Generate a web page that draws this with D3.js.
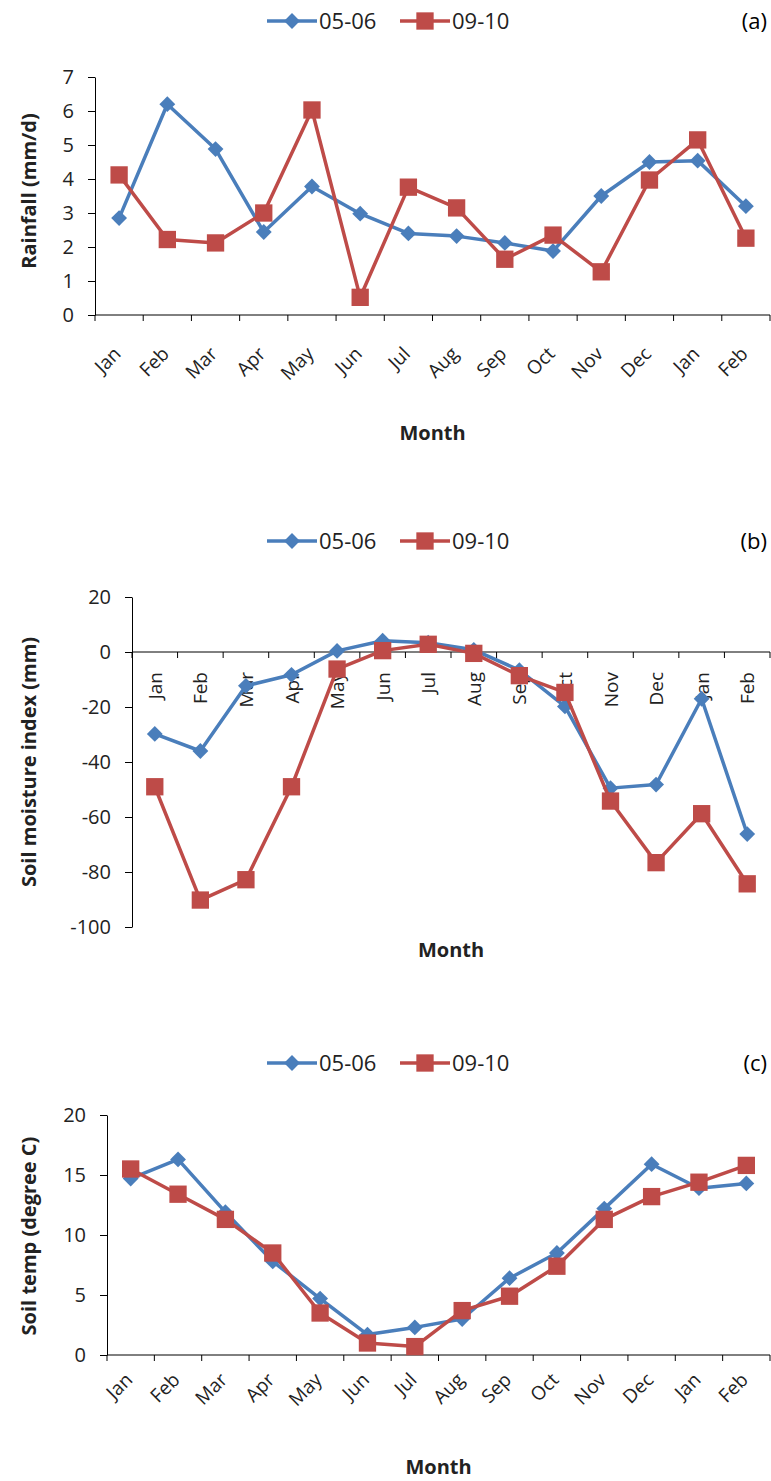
<!DOCTYPE html>
<html>
<head>
<meta charset="utf-8">
<script src="https://cdn.jsdelivr.net/npm/d3@7"></script>
<style>
  body { margin: 0; background: #fff; }
  svg { display: block; }
</style>
</head>
<body>
<svg width="771" height="1481"></svg>
<script>
// categories
var months = ["Jan", "Feb", "Mar", "Apr", "May", "Jun", "Jul", "Aug", "Sep", "Oct", "Nov", "Dec", "Jan", "Feb"];
var seriesNames = ["05-06", "09-10"];

// (a) rainfall, mm/d
var rain0506 = [2.85, 6.2, 4.88, 2.44, 3.78, 2.98, 2.4, 2.32, 2.12, 1.88, 3.5, 4.5, 4.54, 3.2];
var rain0910 = [4.12, 2.22, 2.12, 3.0, 6.03, 0.52, 3.76, 3.15, 1.64, 2.35, 1.27, 3.97, 5.15, 2.26];
var rainTicks = [0, 1, 2, 3, 4, 5, 6, 7];

// (b) soil moisture index, mm
var smi0506 = [-29.8, -36, -12.3, -8.3, 0.4, 4.1, 3.4, 0.8, -6.6, -19.8, -49.5, -48.2, -17, -66.2];
var smi0910 = [-49, -90.2, -82.8, -49, -6.2, 0.5, 2.8, -0.5, -8.6, -14.7, -54.2, -76.6, -58.8, -84.3];
var smiTicks = [-100, -80, -60, -40, -20, 0, 20];

// (c) soil temp, degree C
var temp0506 = [14.7, 16.3, 11.9, 7.8, 4.7, 1.7, 2.3, 3.0, 6.4, 8.5, 12.2, 15.9, 13.9, 14.3];
var temp0910 = [15.5, 13.4, 11.3, 8.5, 3.5, 1.0, 0.7, 3.7, 4.9, 7.4, 11.3, 13.2, 14.4, 15.8];
var tempTicks = [0, 5, 10, 15, 20];

var blue = "#4a7ebb", red = "#be4b48";
var numFont = "'Liberation Sans Narrow', 'Open Sans', sans-serif";
var textFont = "'Open Sans', sans-serif";

var svg = d3.select("svg");

function drawPanel(p) {
    var g = svg.append("g");

    var x = d3.scaleBand()
        .domain(d3.range(months.length))
        .range([p.left, 770]);

    // y0 = pixel of lowest tick, y1 = pixel of highest tick
    var y = d3.scaleLinear()
        .domain(d3.extent(p.ticks))
        .range([p.y0, p.y1]);

    // y axis (plain hyphen for negatives, like the original)
    var yAxis = d3.axisLeft(y).tickValues(p.ticks).tickFormat(function (d) { return String(d); })
        .tickSize(7).tickPadding(14).tickSizeOuter(0);
    var ya = g.append("g").attr("transform", "translate(" + p.left + ",0)").call(yAxis);
    ya.select(".domain").attr("stroke", "#000").attr("stroke-width", 1);
    ya.selectAll(".tick line").attr("stroke", "#000");
    ya.selectAll(".tick text")
        .attr("font-family", numFont)
        .attr("font-size", 20)
        .attr("fill", "#222");

    // x axis line with ticks at category boundaries
    var xLineY = y(0);
    g.append("line")
        .attr("x1", p.left).attr("x2", 770)
        .attr("y1", xLineY).attr("y2", xLineY)
        .attr("stroke", "#000");
    g.selectAll(".xtick")
        .data(d3.range(months.length + 1))
        .enter().append("line")
        .attr("x1", function (i) { return p.left + i * x.step(); })
        .attr("x2", function (i) { return p.left + i * x.step(); })
        .attr("y1", xLineY).attr("y2", xLineY + 6)
        .attr("stroke", "#000");

    // month labels
    g.selectAll(".mlabel")
        .data(months)
        .enter().append("text")
        .attr("transform", function (d, i) {
            var cx = x(i) + x.bandwidth() / 2;
            if (p.vertical) return "translate(" + (cx + 7) + "," + (xLineY + p.labelGap) + ") rotate(-90)";
            return "translate(" + (cx + 3) + "," + (xLineY + p.labelGap) + ") rotate(-45)";
        })
        .attr("text-anchor", "end")
        .attr("font-family", textFont)
        .attr("font-size", 19)
        .attr("fill", "#222")
        .text(function (d) { return d; });

    // titles
    g.append("text")
        .attr("x", (p.left + 770) / 2).attr("y", p.monthY)
        .attr("text-anchor", "middle")
        .attr("font-family", textFont)
        .attr("font-size", 20).attr("font-weight", "bold")
        .attr("fill", "#222")
        .text("Month");

    g.append("text")
        .attr("transform", "translate(36," + p.titleY + ") rotate(-90)")
        .attr("text-anchor", "middle")
        .attr("font-family", textFont)
        .attr("font-size", 20).attr("font-weight", "bold")
        .attr("fill", "#222")
        .text(p.title);

    // series
    var line = d3.line()
        .x(function (d, i) { return x(i) + x.bandwidth() / 2; })
        .y(function (d) { return y(d); });

    [[p.s1, blue, "diamond"], [p.s2, red, "square"]].forEach(function (s) {
        g.append("path")
            .datum(s[0])
            .attr("d", line)
            .attr("fill", "none")
            .attr("stroke", s[1])
            .attr("stroke-width", 3.5)
            .attr("stroke-linejoin", "round");
        var sym = s[2] == "diamond" ? d3.symbol().type(d3.symbolDiamond2).size(160)
                                    : d3.symbol().type(d3.symbolSquare).size(300);
        g.selectAll(".m" + s[2])
            .data(s[0])
            .enter().append("path")
            .attr("d", sym)
            .attr("transform", function (d, i) {
                return "translate(" + (x(i) + x.bandwidth() / 2) + "," + y(d) + ")";
            })
            .attr("fill", s[1]);
    });

    // legend
    var lg = svg.append("g").attr("transform", "translate(0," + p.legendY + ")");
    var items = [
        { name: seriesNames[0], color: blue, sym: d3.symbol().type(d3.symbolDiamond2).size(160), x0: 267 },
        { name: seriesNames[1], color: red, sym: d3.symbol().type(d3.symbolSquare).size(300), x0: 400 }
    ];
    items.forEach(function (it) {
        lg.append("line")
            .attr("x1", it.x0).attr("x2", it.x0 + 50)
            .attr("y1", 0).attr("y2", 0)
            .attr("stroke", it.color).attr("stroke-width", 3.5);
        lg.append("path")
            .attr("d", it.sym)
            .attr("transform", "translate(" + (it.x0 + 25) + ",0)")
            .attr("fill", it.color);
        lg.append("text")
            .attr("x", it.x0 + 52).attr("y", 8)
            .attr("font-family", numFont)
            .attr("font-size", 22)
            .attr("fill", "#222")
            .text(it.name);
    });
    lg.append("text")
        .attr("x", 767).attr("y", 8)
        .attr("text-anchor", "end")
        .attr("font-family", numFont)
        .attr("font-size", 22)
        .attr("fill", "#000")
        .text(p.tag);
}

drawPanel({
    tag: "(a)", title: "Rainfall (mm/d)", left: 95, y0: 315, y1: 77,
    ticks: rainTicks, s1: rain0506, s2: rain0910, labelGap: 40,
    legendY: 21, monthY: 440, titleY: 191, vertical: false
});

drawPanel({
    tag: "(b)", title: "Soil moisture index (mm)", left: 132, y0: 927, y1: 597,
    ticks: smiTicks, s1: smi0506, s2: smi0910, labelGap: 20,
    legendY: 541, monthY: 957, titleY: 762, vertical: true
});

drawPanel({
    tag: "(c)", title: "Soil temp (degree C)", left: 107, y0: 1355, y1: 1115,
    ticks: tempTicks, s1: temp0506, s2: temp0910, labelGap: 26,
    legendY: 1063, monthY: 1474, titleY: 1236, vertical: false
});
</script>
</body>
</html>
